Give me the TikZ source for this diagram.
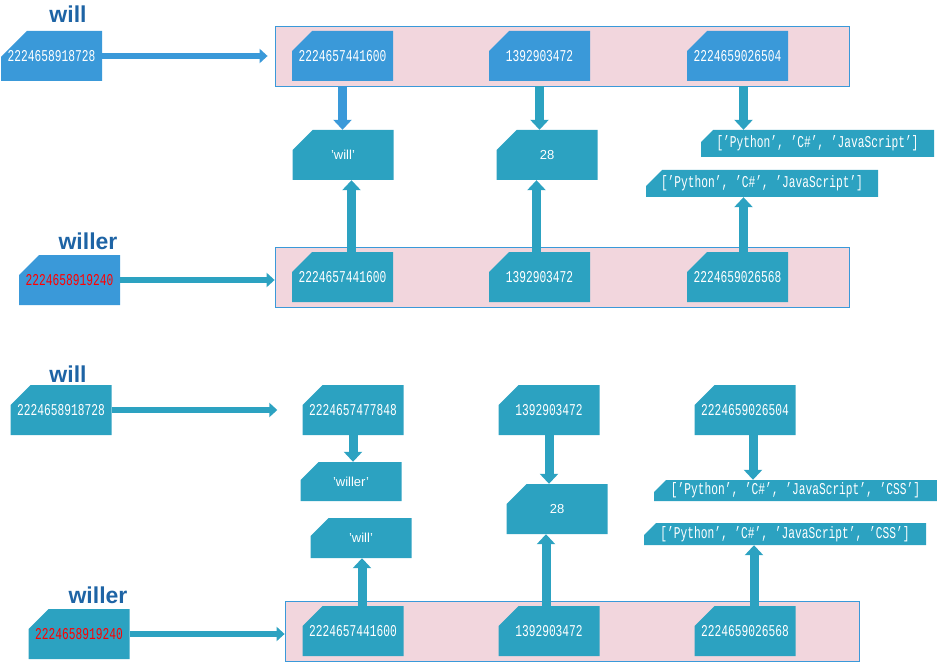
\documentclass[tikz,border=0pt]{standalone}
\usepackage{fontspec}
\setmainfont{Liberation Sans}
\newfontfamily\memfont[FakeStretch=0.68]{Liberation Mono}
\usetikzlibrary{arrows.meta,calc}
\definecolor{memblue}{RGB}{58,153,217}
\definecolor{memteal}{RGB}{44,162,193}
\definecolor{rowpink}{RGB}{242,214,221}
\definecolor{namecol}{RGB}{30,100,165}

\begin{document}
\begin{tikzpicture}
        [x=1pt, y=-1pt,
        cellcol/.store in=\cellcol, cellcol=memteal,
        chamf/.store in=\chamf, chamf=20pt,
        cell/.style={rectangle, inner sep=0pt, text=white,
          minimum width=101pt, minimum height=50pt,
          path picture={\fill[\cellcol] ($(path picture bounding box.north west)+(\chamf,0pt)$)
            -- (path picture bounding box.north east) -- (path picture bounding box.south east)
            -- (path picture bounding box.south west)
            -- ($(path picture bounding box.north west)+(0pt,-\chamf)$) -- cycle;}},
        addr/.style={cell, font=\memfont\fontsize{16.5}{16.5}\selectfont},
        val/.style={cell, font=\fontsize{13}{13}\selectfont},
        lst/.style={cell, chamf=12pt, minimum height=27pt, font=\memfont\fontsize{16.5}{16.5}\selectfont},
        row/.style={draw=memblue, line width=0.8pt, fill=rowpink,
          minimum width=574pt, minimum height=60pt, inner sep=0pt},
        varname/.style={anchor=base, text=namecol, font=\bfseries\fontsize{23}{23}\selectfont},
        harr/.style={line width=6pt, -{Triangle[width=14pt,length=8pt]}},
        varr/.style={line width=9pt, -{Triangle[width=18pt,length=10pt]}}]

        \useasboundingbox (0,0) rectangle (937,663);

        % first picture: will and willer share the inner objects
        \node[varname] (nA) at (68,23) {will};
        \node[varname] (nB) at (88,249) {willer};
        \node[row] (rowA) at (562,56) {};
        \node[row] (rowB) at (562,277) {};

        \node[addr, cellcol=memblue, chamf=26pt] (wA) at (51.5,56) {2224658918728};
        \node[addr, cellcol=memblue] (A1) at (342.5,56) {2224657441600};
        \node[addr, cellcol=memblue] (A2) at (539.5,56) {1392903472};
        \node[addr, cellcol=memblue] (A3) at (737.5,56) {2224659026504};

        \node[val] (vA) at (343,155) {'will'};
        \node[val] (vB) at (547,155) {28};
        \node[lst, minimum width=233pt] (lA) at (817.5,143.5) {[’Python’, ’C\#’, ’JavaScript’]};
        \node[lst, minimum width=232pt, chamf=16pt] (lB) at (762,183.5) {[’Python’, ’C\#’, ’JavaScript’]};

        \node[addr, cellcol=memblue, text=red] (wB) at (69.5,280) {2224658919240};
        \node[addr] (B1) at (342.5,277) {2224657441600};
        \node[addr] (B2) at (539.5,277) {1392903472};
        \node[addr] (B3) at (737.5,277) {2224659026568};

        \draw[harr, memblue, shorten >=7pt] (wA.east) -- (rowA.west);
        \draw[harr, memteal] (wB.east) -- (wB.east -| rowB.west);
        \draw[varr, memblue] (A1.south |- rowA.south) -- (A1.south |- vA.north);
        \draw[varr, memteal] (A2.south |- rowA.south) -- (A2.south |- vB.north);
        \draw[varr, memteal] ($(A3.south |- rowA.south)+(6,0)$) -- ($(A3.south |- lA.north)+(6,0)$);
        \draw[varr, memteal] ($(B1.north)+(9,0)$) -- ($(B1.north |- vA.south)+(9,0)$);
        \draw[varr, memteal] ($(B2.north)+(-3,0)$) -- ($(B2.north |- vB.south)+(-3,0)$);
        \draw[varr, memteal] ($(B3.north)+(6,0)$) -- ($(B3.north |- lB.south)+(6,0)$);

        % second picture: after the changes
        \node[varname] (nC) at (68,382) {will};
        \node[varname] (nD) at (98,603) {willer};
        \node[row] (rowD) at (572,631) {};

        \node[addr] (wC) at (61,410) {2224658918728};
        \node[addr] (C1) at (353,410) {2224657477848};
        \node[addr] (C2) at (549,410) {1392903472};
        \node[addr] (C3) at (745,410) {2224659026504};

        \node[val, chamf=18pt, minimum height=39pt] (vC) at (351,481.5) {'willer'};
        \node[val, chamf=18pt, minimum height=40pt] (vD) at (361,538) {'will'};
        \node[val] (vE) at (557,509) {28};
        \node[lst, chamf=12pt, minimum width=283pt, minimum height=21pt] (lC) at (795.5,490.5) {[’Python’, ’C\#’, ’JavaScript’, ’CSS’]};
        \node[lst, chamf=12pt, minimum width=282pt, minimum height=22pt] (lD) at (785,534) {[’Python’, ’C\#’, ’JavaScript’, ’CSS’]};

        \node[addr, text=red] (wD) at (79,634) {2224658919240};
        \node[addr] (D1) at (353,631) {2224657441600};
        \node[addr] (D2) at (549,631) {1392903472};
        \node[addr] (D3) at (745,631) {2224659026568};

        \draw[harr, memteal, shorten >=25pt] (wC.east) -- (C1.west);
        \draw[harr, memteal] (wD.east) -- (wD.east -| rowD.west);
        \draw[varr, memteal] (C1.south) -- (C1.south |- vC.north);
        \draw[varr, memteal] (C2.south) -- (C2.south |- vE.north);
        \draw[varr, memteal] ($(C3.south)+(8,0)$) -- ($(C3.south |- lC.north)+(8,0)$);
        \draw[varr, memteal] ($(D1.north)+(9,0)$) -- ($(D1.north |- vD.south)+(9,0)$);
        \draw[varr, memteal] ($(D2.north)+(-3,0)$) -- ($(D2.north |- vE.south)+(-3,0)$);
        \draw[varr, memteal] ($(D3.north)+(9,0)$) -- ($(D3.north |- lD.south)+(9,0)$);

        \end{tikzpicture}
\end{document}
